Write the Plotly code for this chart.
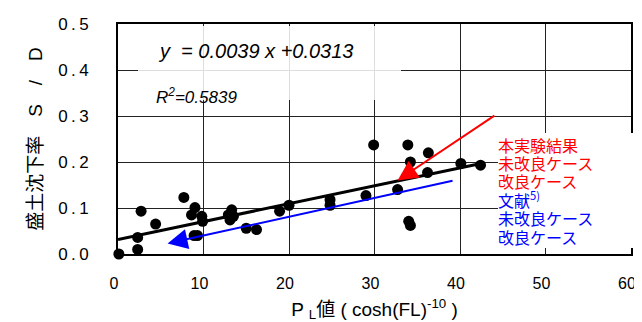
import plotly.graph_objects as go

# ---- data ----
pl_values = [0.1, 2.3, 2.3, 2.7, 4.4, 7.7, 9.0, 8.6, 9.8, 9.9, 8.9, 9.3, 13.3, 12.9, 13.1, 13.5,
             15.0, 16.2, 18.9, 20.0, 24.8, 24.8, 29.0, 29.9, 32.7, 33.9, 34.2, 36.3, 36.2,
             34.0, 34.2, 40.1, 42.4]
sd_values = [0.000, 0.010, 0.036, 0.093, 0.065, 0.123, 0.101, 0.085, 0.082, 0.071, 0.040, 0.040,
             0.096, 0.085, 0.074, 0.082, 0.056, 0.053, 0.093, 0.106, 0.118, 0.106, 0.127, 0.237,
             0.140, 0.237, 0.200, 0.220, 0.177, 0.071, 0.062, 0.197, 0.193]
trend_x = [0.0, 42.6]
trend_y = [0.0313, 0.1974]
red_arrow_tail = (44.2, 0.303)
red_arrow_head = (32.7, 0.160)
blue_arrow_tail = (39.3, 0.160)
blue_arrow_head = (5.8, 0.023)
x_ticks = [0, 10, 20, 30, 40, 50, 60]
y_ticks = [0.0, 0.1, 0.2, 0.3, 0.4, 0.5]
y_tick_text = ["0\u2009.\u20090", "0\u2009.\u20091", "0\u2009.\u20092",
               "0\u2009.\u20093", "0\u2009.\u20094", "0\u2009.\u20095"]
equation_text = "<i>y  = 0.0039 x +0.0313</i>"
r2_text = "<i>R<sup>2</sup>=0.5839</i>"
legend_red = ["本実験結果", "未改良ケース", "改良ケース"]
legend_blue = ["文献<sup>5)</sup>", "未改良ケース", "改良ケース"]

FONT = "Liberation Sans, Arial, Noto Sans CJK JP"
CJK = "Noto Sans CJK JP, sans-serif"

fig = go.Figure()
fig.add_trace(go.Scatter(x=trend_x, y=trend_y, mode="lines",
                         line=dict(color="black", width=3), showlegend=False))
fig.add_trace(go.Scatter(x=pl_values, y=sd_values, mode="markers",
                         marker=dict(color="black", size=11), cliponaxis=False,
                         showlegend=False))

# arrows
fig.add_annotation(x=red_arrow_head[0], y=red_arrow_head[1], ax=red_arrow_tail[0], ay=red_arrow_tail[1],
                   xref="x", yref="y", axref="x", ayref="y", showarrow=True, text="",
                   arrowhead=2, arrowsize=2, arrowwidth=2, arrowcolor="#ff0000", standoff=0)
fig.add_annotation(x=blue_arrow_head[0], y=blue_arrow_head[1], ax=blue_arrow_tail[0], ay=blue_arrow_tail[1],
                   xref="x", yref="y", axref="x", ayref="y", showarrow=True, text="",
                   arrowhead=2, arrowsize=2, arrowwidth=2, arrowcolor="#0000ff", standoff=0)

# plot-area geometry in px (for placing text boxes)
L, R, T, B = 110, 623, 16, 246
def px(xp):
    return (xp - L) / (R - L)
def py(yp):
    return (B - yp) / (B - T)

# translucent box behind equation
fig.add_shape(type="rect", xref="paper", yref="paper", x0=px(130), x1=px(393), y0=py(92), y1=py(18),
              fillcolor="white", opacity=0.85, line_width=0, layer="above")
# legend text box
fig.add_shape(type="rect", xref="paper", yref="paper", x0=px(490), x1=px(627), y0=py(240), y1=py(125),
              fillcolor="white", line_width=0, layer="above")

fig.add_annotation(text=equation_text, xref="paper", yref="paper", x=px(148), y=py(43),
                   xanchor="left", yanchor="middle", showarrow=False,
                   font=dict(family=FONT, size=20, color="black"))
fig.add_annotation(text=r2_text, xref="paper", yref="paper", x=px(146), y=py(88),
                   xanchor="left", yanchor="middle", showarrow=False,
                   font=dict(family=FONT, size=17, color="black"))

ys = [136.7, 155, 173.3, 191.7, 210, 229.3]
for i, t in enumerate(legend_red + legend_blue):
    col = "#ff0000" if i < 3 else "#0000ff"
    fig.add_annotation(text=t, xref="paper", yref="paper", x=px(488), y=py(ys[i]),
                       xanchor="left", yanchor="middle", showarrow=False,
                       font=dict(family=CJK, size=16, color=col))

fig.update_layout(
    width=642, height=322,
    margin=dict(l=L, r=642 - R, t=T, b=322 - B, autoexpand=False),
    paper_bgcolor="white", plot_bgcolor="white",
    font=dict(family=FONT, size=16, color="black"),
)
fig.update_xaxes(range=[0, 60], tickvals=x_ticks, showgrid=True, gridcolor="#222", gridwidth=1,
                 showline=True, linecolor="black", linewidth=2, mirror=True, zeroline=False,
                 automargin=False,
                 ticks="", tickfont=dict(family=FONT, size=16, color="black"),
                 ticklabelstandoff=14, ticklabelshift=-4,
                 title=dict(text="P <sub>L</sub>値 ( cosh(FL)<sup>-10</sup> )",
                            font=dict(family=FONT, size=19, color="black"), standoff=11))
fig.update_yaxes(range=[0, 0.5], tickvals=y_ticks, ticktext=y_tick_text, showgrid=True,
                 gridcolor="#222", gridwidth=1, automargin=False,
                 showline=True, linecolor="black", linewidth=2, mirror=True, zeroline=False,
                 ticks="", tickfont=dict(family=FONT, size=17, color="black"),
                 ticklabelstandoff=24,
                 title=dict(text="盛土沈下率　S　/　D", font=dict(family=FONT, size=19, color="black"),
                            standoff=10))

fig.write_html("out.html")
